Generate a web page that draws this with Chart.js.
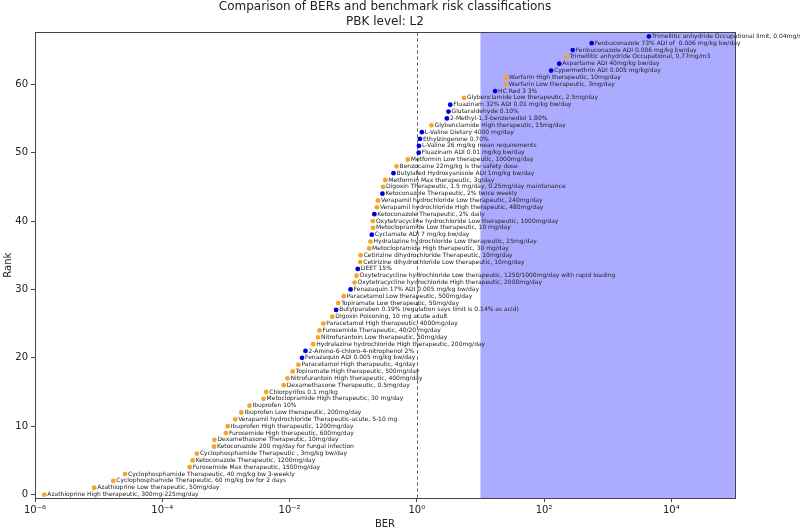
<!DOCTYPE html>
<html>
<head>
<meta charset="utf-8">
<script src="https://cdn.jsdelivr.net/npm/chart.js@4"></script>
<style>
  html, body { margin: 0; padding: 0; background: #fff; }
  #wrap { width: 800px; height: 532px; }
</style>
</head>
<body>
<div id="wrap"><canvas id="ber-chart"></canvas></div>
<script>
// rank 0..67, bottom to top
const names = [
  'Azathioprine High therapeutic, 300mg-225mg/day',
  'Azathioprine Low therapeutic, 50mg/day',
  'Cyclophosphamide Therapeutic, 60 mg/kg bw for 2 days',
  'Cyclophosphamide Therapeutic, 40 mg/kg bw 3-weekly',
  'Furosemide Max therapeutic, 1500mg/day',
  'Ketoconazole Therapeutic, 1200mg/day',
  'Cyclophosphamide Therapeutic , 3mg/kg bw/day',
  'Ketoconazole 200 mg/day for fungal infection',
  'Dexamethasone Therapeutic, 10mg/day',
  'Furosemide High therapeutic, 600mg/day',
  'Ibuprofen High therapeutic, 1200mg/day',
  'Verapamil hydrochloride Therapeutic-acute, 5-10 mg',
  'Ibuprofen Low therapeutic, 200mg/day',
  'Ibuprofen 10%',
  'Metoclopramide High therapeutic, 30 mg/day',
  'Chlorpyrifos 0.1 mg/kg',
  'Dexamethasone Therapeutic, 0.5mg/day',
  'Nitrofurantoin High therapeutic, 400mg/day',
  'Topiramate High therapeutic, 500mg/day',
  'Paracetamol High therapeutic, 4g/day',
  'Fenazaquin ADI 0.005 mg/kg bw/day',
  '2-Amino-6-chloro-4-nitrophenol 2%',
  'Hydralazine hydrochloride High therapeutic, 200mg/day',
  'Nitrofurantoin Low therapeutic, 50mg/day',
  'Furosemide Therapeutic, 40/20 mg/day',
  'Paracetamol High therapeutic, 4000mg/day',
  'Digoxin Poisoning, 10 mg acute adult',
  'Butylparaben 0.19% (regulation says limit is 0.14% as acid)',
  'Topiramate Low therapeutic, 50mg/day',
  'Paracetamol Low therapeutic, 500mg/day',
  'Fenazaquin 17% ADI 0.005 mg/kg bw/day',
  'Oxytetracycline hydrochloride High therapeutic, 2000mg/day',
  'Oxytetracycline hydrochloride Low therapeutic, 1250/1000mg/day with rapid loading',
  'DEET 15%',
  'Cetirizine dihydrochloride Low therapeutic, 10mg/day',
  'Cetirizine dihydrochloride Therapeutic, 10mg/day',
  'Metoclopramide High therapeutic, 30 mg/day',
  'Hydralazine hydrochloride Low therapeutic, 25mg/day',
  'Cyclamate ADI 7 mg/kg bw/day',
  'Metoclopramide Low therapeutic, 10 mg/day',
  'Oxytetracycline hydrochloride Low therapeutic, 1000mg/day',
  'Ketoconazole Therapeutic, 2% daily',
  'Verapamil hydrochloride High therapeutic, 480mg/day',
  'Verapamil hydrochloride Low therapeutic, 240mg/day',
  'Ketoconazole Therapeutic, 2% twice weekly',
  'Digoxin Therapeutic, 1.5 mg/day, 0.25mg/day maintanance',
  'Metformin Max therapeutic, 3g/day',
  'Butylated Hydroxyanisole ADI 1mg/kg bw/day',
  'Benzocaine 22mg/kg is the safety dose',
  'Metformin Low therapeutic, 1000mg/day',
  'Fluazinam ADI 0.01 mg/kg bw/day',
  'L-Valine 26 mg/kg mean requirements',
  'Ethylzingerone 0.70%',
  'L-Valine Dietary 4000 mg/day',
  'Glybenclamide High therapeutic, 15mg/day',
  '2-Methyl-1,3-benzenediol 1.80%',
  'Glutaraldehyde 0.10%',
  'Fluazinam 32% ADI 0.01 mg/kg bw/day',
  'Glybenclamide Low therapeutic, 2.5mg/day',
  'HC Red 3 3%',
  'Warfarin Low therapeutic, 3mg/day',
  'Warfarin High therapeutic, 10mg/day',
  'Cypermethrin ADI 0.005 mg/kg/day',
  'Aspartame ADI 40mg/kg bw/day',
  'Trimellitic anhydride Occupational, 0.77mg/m3',
  'Fenbuconazole ADI 0.006 mg/kg bw/day',
  'Fenbuconazole 73% ADI of  0.006 mg/kg bw/day',
  'Trimellitic anhydride Occupational limit, 0.04mg/m3'
];

const bers = [
  1.4e-6, 8.5e-6, 1.7e-5, 2.6e-5, 2.7e-4, 3.0e-4, 3.5e-4, 6.5e-4, 6.6e-4, 1.0e-3,
  1.07e-3, 1.4e-3, 1.75e-3, 2.35e-3, 3.9e-3, 4.3e-3, 8.1e-3, 9.3e-3, 0.0112, 0.0138,
  0.0157, 0.0178, 0.0235, 0.028, 0.0295, 0.034, 0.047, 0.054, 0.058, 0.071,
  0.091, 0.105, 0.113, 0.118, 0.129, 0.131, 0.178, 0.187, 0.196, 0.205,
  0.204, 0.215, 0.236, 0.245, 0.288, 0.295, 0.32, 0.43, 0.48, 0.72,
  1.07, 1.08, 1.12, 1.2, 1.7, 2.97, 3.15, 3.35, 5.5, 17,
  25, 25.2, 129, 173, 225, 282, 560, 4450
];

// 't' = therapeutic benchmark (orange), 'c' = ADI / cosmetic / occupational benchmark (blue)
const groups = [
  't','t','t','t','t','t','t','t','t','t',
  't','t','t','t','t','t','t','t','t','t',
  'c','c','t','t','t','t','t','c','t','t',
  'c','t','t','c','t','t','t','t','c','t',
  't','c','t','t','c','t','t','c','t','t',
  'c','c','c','c','t','c','c','c','t','c',
  't','t','c','c','t','c','c','c'
];

const xTicks = [1e-6, 1e-4, 1e-2, 1, 1e2, 1e4];
const xTickLabels = ['10⁻⁶', '10⁻⁴', '10⁻²', '10⁰', '10²', '10⁴'];
const yTicks = [0, 10, 20, 30, 40, 50, 60];
const threshold = 1;      // dashed line
const riskStart = 10;     // shaded zone start

const orange = '#f5a52a';
const blue = '#0000dd';

const pointsFor = (g) => bers
  .map((v, i) => ({ x: v, y: i, label: names[i], g: groups[i] }))
  .filter(p => p.g === g);

const decor = {
  id: 'decor',
  beforeDatasetsDraw(chart) {
    const { ctx, chartArea: a, scales: { x } } = chart;
    const xs = x.getPixelForValue(riskStart);
    ctx.save();
    ctx.fillStyle = 'rgba(0, 0, 255, 0.33)';
    ctx.fillRect(xs, a.top, a.right - xs, a.bottom - a.top);
    const xl = Math.round(x.getPixelForValue(threshold)) + 0.5;
    ctx.strokeStyle = '#666';
    ctx.lineWidth = 1;
    ctx.setLineDash([3.5, 2.5]);
    ctx.beginPath();
    ctx.moveTo(xl, a.top);
    ctx.lineTo(xl, a.bottom);
    ctx.stroke();
    ctx.restore();
  },
  afterDatasetsDraw(chart) {
    const { ctx, chartArea: a } = chart;
    ctx.save();
    ctx.font = '6px "DejaVu Sans"';
    ctx.fillStyle = '#222';
    ctx.textBaseline = 'middle';
    chart.data.datasets.forEach((ds, di) => {
      chart.getDatasetMeta(di).data.forEach((el, j) => {
        ctx.fillText(ds.data[j].label, el.x + 3, el.y);
      });
    });
    ctx.strokeStyle = '#444';
    ctx.lineWidth = 1;
    ctx.strokeRect(Math.round(a.left) + 0.5, Math.round(a.top) + 0.5,
      Math.round(a.right - a.left), Math.round(a.bottom - a.top));
    ctx.restore();
  }
};

const ctx = document.getElementById('ber-chart').getContext('2d');

new Chart(ctx, {
  type: 'scatter',
  data: {
    datasets: [
      { label: 'Therapeutic', data: pointsFor('t'), backgroundColor: orange, borderWidth: 0, pointRadius: 2.4 },
      { label: 'ADI / exposure limit', data: pointsFor('c'), backgroundColor: blue, borderWidth: 0, pointRadius: 2.4 }
    ]
  },
  options: {
    responsive: true,
    maintainAspectRatio: false,
    animation: false,
    layout: { padding: { top: 0, right: 65, bottom: 0, left: 0 } },
    scales: {
      x: {
        type: 'logarithmic',
        min: 1e-6,
        max: 1e5,
        afterBuildTicks: (s) => { s.ticks = xTicks.map(v => ({ value: v })); },
        afterFit: (s) => { s.height = 34; },
        grid: { drawOnChartArea: false, drawTicks: true, tickLength: 4, tickColor: '#444' },
        border: { display: false },
        ticks: {
          autoSkip: false,
          maxRotation: 0,
          padding: 2,
          color: '#222',
          font: { family: 'DejaVu Sans', size: 10 },
          callback: (v) => xTickLabels[xTicks.indexOf(v)] || ''
        },
        title: {
          display: true,
          text: 'BER',
          color: '#222',
          font: { family: 'DejaVu Sans', size: 10 },
          padding: { top: 0, bottom: 2 }
        }
      },
      y: {
        min: -0.5,
        max: 67.6,
        afterBuildTicks: (s) => { s.ticks = yTicks.map(v => ({ value: v })); },
        afterFit: (s) => { s.width = 35; },
        grid: { drawOnChartArea: false, drawTicks: true, tickLength: 4, tickColor: '#444' },
        border: { display: false },
        ticks: {
          padding: 3,
          color: '#222',
          font: { family: 'DejaVu Sans', size: 10 }
        },
        title: {
          display: true,
          text: 'Rank',
          color: '#222',
          font: { family: 'DejaVu Sans', size: 10 },
          padding: { top: 2, bottom: 0 }
        }
      }
    },
    plugins: {
      legend: { display: false },
      tooltip: { enabled: false },
      title: {
        display: true,
        fullSize: false,
        text: ['Comparison of BERs and benchmark risk classifications', 'PBK level: L2'],
        color: '#222',
        font: { family: 'DejaVu Sans', size: 12, weight: 'normal', lineHeight: 1.22 },
        padding: { top: 0, bottom: 3 }
      }
    }
  },
  plugins: [decor]
});
</script>
</body>
</html>
